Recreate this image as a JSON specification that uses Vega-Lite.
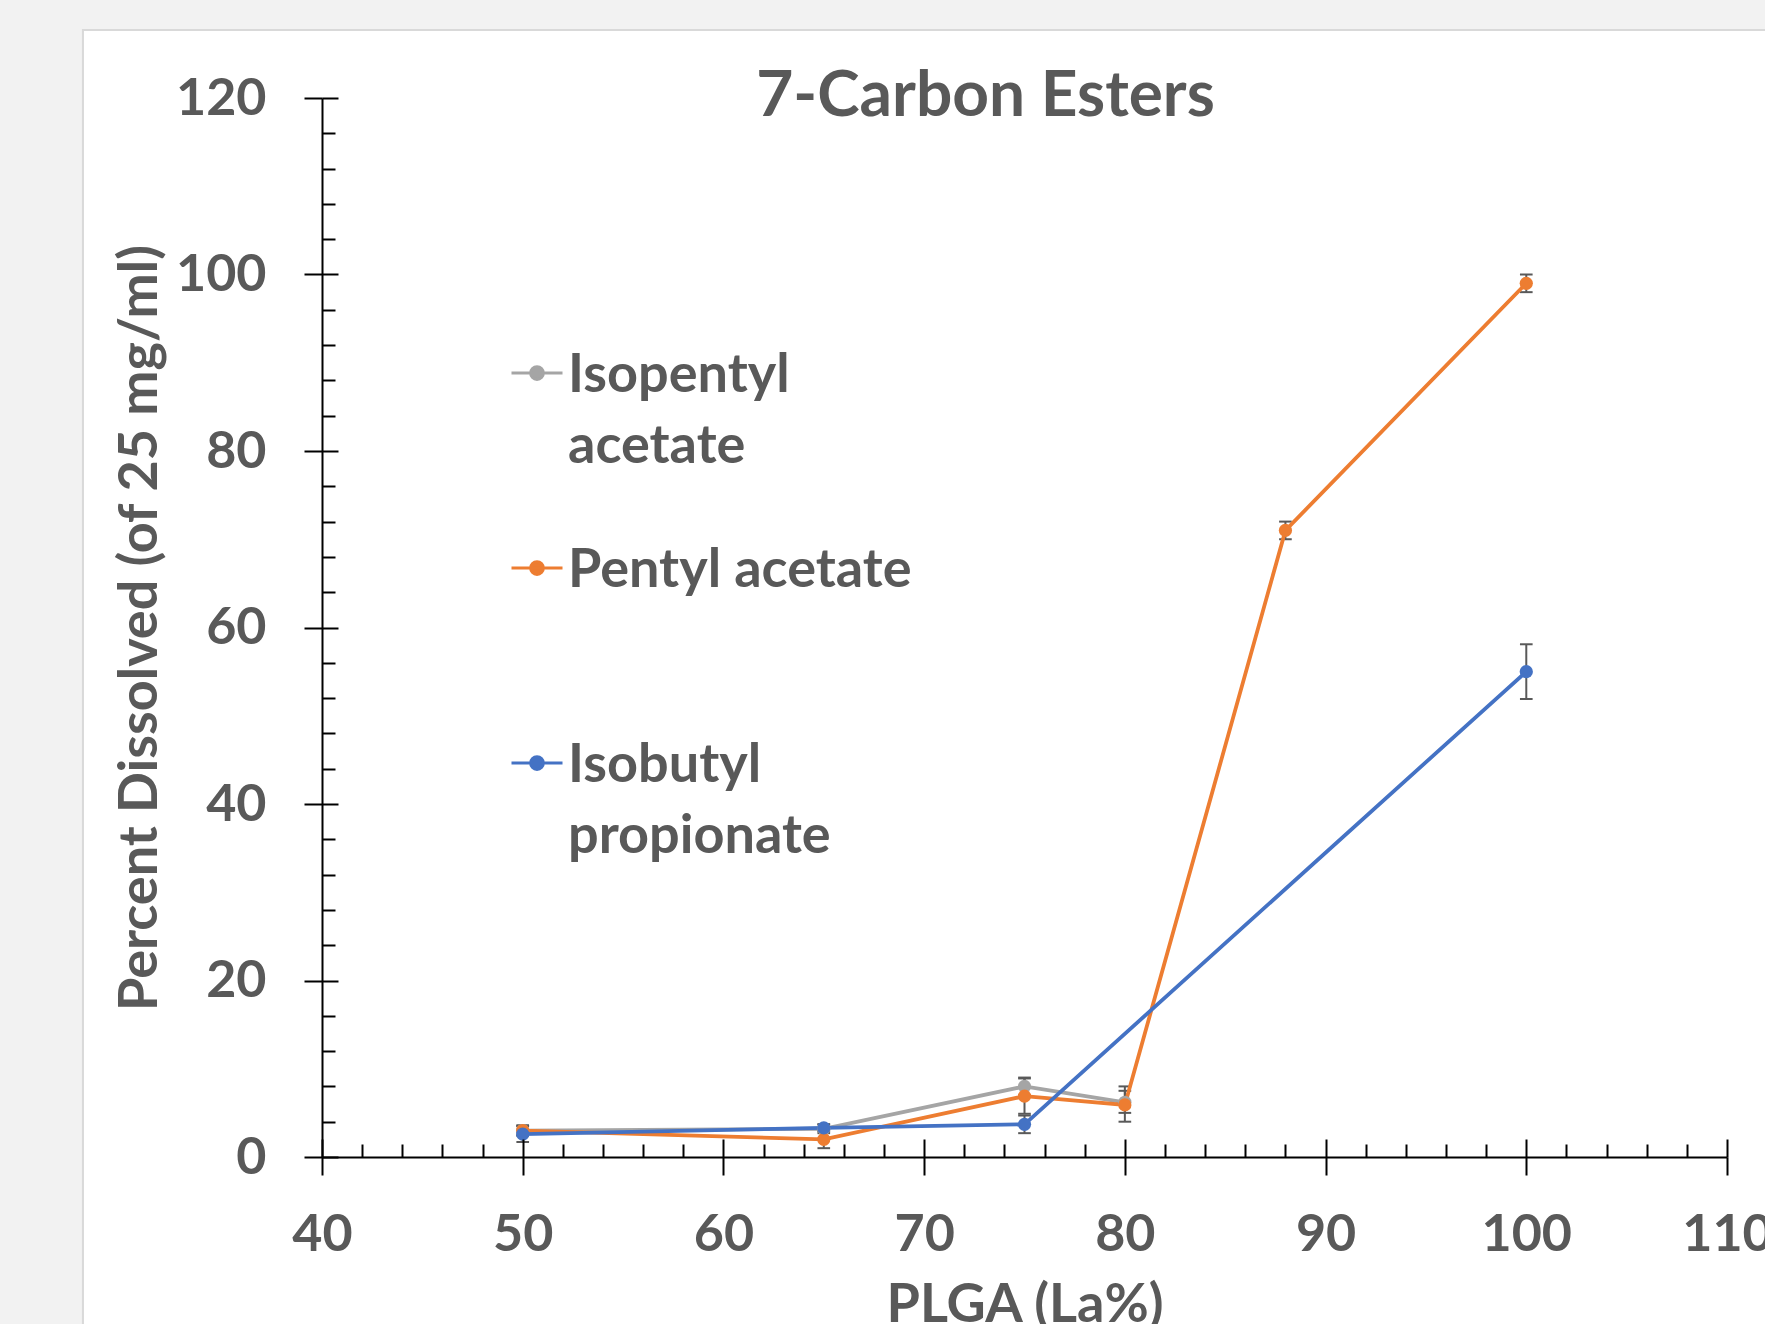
{
  "$schema": "https://vega.github.io/schema/vega-lite/v6.json",
  "width": 1405,
  "height": 1059,
  "autosize": {"type": "none"},
  "padding": {"left": 322, "top": 98, "right": 38, "bottom": 167},
  "background": "#f2f2f2",
  "config": {
    "view": {"stroke": null},
    "font": "Lato",
    "axis": {
      "labelFont": "Lato", "labelFontSize": 52, "labelFontWeight": "bold", "labelColor": "#595959",
      "titleFont": "Lato", "titleFontSize": 54, "titleFontWeight": "bold", "titleColor": "#595959",
      "tickColor": "black", "tickWidth": 2, "domainColor": "black", "domainWidth": 2,
      "grid": false, "labelFlush": false, "labelOverlap": false
    }
  },
  "title": {
    "text": "7-Carbon Esters", "font": "Lato", "fontWeight": "bold", "fontSize": 64,
    "color": "#595959", "anchor": "middle", "frame": "group", "baseline": "alphabetic",
    "offset": 0, "dy": 151, "dx": -39
  },
  "data": {
    "values": [
      {"series": "Isopentyl acetate", "x": 50, "y": 3.0, "lo": 2.5, "hi": 3.5},
      {"series": "Isopentyl acetate", "x": 65, "y": 3.2, "lo": 2.7, "hi": 3.7},
      {"series": "Isopentyl acetate", "x": 75, "y": 8.0, "lo": 7.0, "hi": 9.0},
      {"series": "Isopentyl acetate", "x": 80, "y": 6.2, "lo": 5.0, "hi": 7.5},
      {"series": "Pentyl acetate", "x": 50, "y": 3.0, "lo": 2.4, "hi": 3.6},
      {"series": "Pentyl acetate", "x": 65, "y": 2.0, "lo": 1.0, "hi": 3.0},
      {"series": "Pentyl acetate", "x": 75, "y": 6.9, "lo": 4.9, "hi": 8.9},
      {"series": "Pentyl acetate", "x": 80, "y": 5.9, "lo": 4.0, "hi": 8.0},
      {"series": "Pentyl acetate", "x": 88, "y": 71, "lo": 70, "hi": 72},
      {"series": "Pentyl acetate", "x": 100, "y": 99, "lo": 98, "hi": 100},
      {"series": "Isobutyl propionate", "x": 50, "y": 2.6, "lo": 1.7, "hi": 3.5},
      {"series": "Isobutyl propionate", "x": 65, "y": 3.3, "lo": 2.9, "hi": 3.7},
      {"series": "Isobutyl propionate", "x": 75, "y": 3.7, "lo": 2.7, "hi": 4.7},
      {"series": "Isobutyl propionate", "x": 100, "y": 55, "lo": 51.9, "hi": 58.1}
    ]
  },
  "resolve": {"axis": {"x": "independent", "y": "independent"}},
  "layer": [
    {
      "data": {"values": [{}]},
      "mark": {"type": "rect", "fill": "white", "stroke": "#d9d9d9", "strokeWidth": 2, "clip": false},
      "encoding": {
        "x": {"datum": 28.09, "type": "quantitative", "scale": {"domain": [40, 110], "nice": false, "zero": false}, "axis": null},
        "x2": {"datum": 125},
        "y": {"datum": 127.7, "type": "quantitative", "scale": {"domain": [0, 120], "nice": false, "zero": false}, "axis": null},
        "y2": {"datum": -40}
      }
    },
    {
      "mark": {"type": "rule", "color": "#595959", "strokeWidth": 2},
      "encoding": {
        "x": {"field": "x", "type": "quantitative", "scale": {"domain": [40, 110], "nice": false, "zero": false},
          "axis": {"orient": "bottom", "zindex": 2, "values": [42,44,46,48,52,54,56,58,62,64,66,68,72,74,76,78,82,84,86,88,92,94,96,98,102,104,106,108], "tickSize": -13, "labels": false, "domain": false, "title": null}},
        "y": {"field": "lo", "type": "quantitative", "scale": {"domain": [0, 120], "nice": false, "zero": false},
          "axis": {"orient": "left", "zindex": 2, "values": [4,8,12,16,24,28,32,36,44,48,52,56,64,68,72,76,84,88,92,96,104,108,112,116], "tickSize": -13, "labels": false, "domain": false, "title": null}},
        "y2": {"field": "hi"}
      }
    },
    {
      "mark": {"type": "point", "shape": "stroke", "filled": false, "size": 160, "stroke": "#595959", "strokeWidth": 2, "opacity": 1},
      "encoding": {
        "x": {"field": "x", "type": "quantitative", "scale": {"domain": [40, 110], "nice": false, "zero": false},
          "axis": {"orient": "bottom", "zindex": 2, "values": [40,50,60,70,80,90,100,110], "tickSize": -18, "labels": false, "domain": false, "title": null}},
        "y": {"field": "lo", "type": "quantitative", "scale": {"domain": [0, 120], "nice": false, "zero": false},
          "axis": {"orient": "left", "zindex": 2, "values": [0,20,40,60,80,100,120], "tickSize": -16, "labels": false, "domain": false, "title": null}}
      }
    },
    {
      "mark": {"type": "point", "shape": "stroke", "filled": false, "size": 160, "stroke": "#595959", "strokeWidth": 2, "opacity": 1},
      "encoding": {
        "x": {"field": "x", "type": "quantitative", "scale": {"domain": [40, 110], "nice": false, "zero": false}, "axis": null},
        "y": {"field": "hi", "type": "quantitative", "scale": {"domain": [0, 120], "nice": false, "zero": false}, "axis": null}
      }
    },
    {
      "mark": {"type": "line", "strokeWidth": 3.8},
      "encoding": {
        "x": {"field": "x", "type": "quantitative", "scale": {"domain": [40, 110], "nice": false, "zero": false}, "axis": null},
        "y": {"field": "y", "type": "quantitative", "scale": {"domain": [0, 120], "nice": false, "zero": false}, "axis": null},
        "color": {
          "field": "series", "type": "nominal",
          "scale": {"domain": ["Isopentyl acetate", "Pentyl acetate", "Isobutyl propionate"], "range": ["#a5a5a5", "#ed7d31", "#4472c4"]},
          "legend": {
            "orient": "none", "legendX": 188, "legendY": 248, "title": null, "padding": 0,
            "symbolType": "M-1,0L1,0M-0.25,0A0.25,0.25,0,1,1,0.25,0A0.25,0.25,0,1,1,-0.25,0Z",
            "symbolSize": 2601, "symbolStrokeWidth": 3,
            "labelFont": "Lato", "labelFontWeight": "bold", "labelFontSize": 54, "labelColor": "#595959",
            "labelOffset": 4, "labelLimit": 2000, "labelBaseline": "alphabetic",
            "labelExpr": "datum.label === 'Pentyl acetate' ? datum.label : split(datum.label, ' ')",
            "gridAlign": "all", "rowPadding": 67,
            "encode": {
              "symbols": {"update": {"fill": {"scale": "color", "field": "value"}, "stroke": {"scale": "color", "field": "value"}, "strokeWidth": {"value": 3}, "opacity": {"value": 1}}},
              "labels": {"update": {"dy": {"value": 19}, "lineHeight": {"value": 71}}}
            }
          }
        }
      }
    },
    {
      "mark": {"type": "point", "filled": true, "shape": "circle", "size": 175, "opacity": 1},
      "encoding": {
        "x": {"field": "x", "type": "quantitative", "scale": {"domain": [40, 110], "nice": false, "zero": false},
          "axis": {"orient": "bottom", "zindex": 2, "values": [40,50,60,70,80,90,100,110], "tickSize": 18, "labelPadding": 34, "title": "PLGA (La%)", "titlePadding": 18}},
        "y": {"field": "y", "type": "quantitative", "scale": {"domain": [0, 120], "nice": false, "zero": false},
          "axis": {"orient": "left", "zindex": 2, "values": [0,20,40,60,80,100,120], "tickSize": 18, "labelPadding": 38, "title": "Percent Dissolved (of 25 mg/ml)", "titlePadding": 8}},
        "color": {
          "field": "series", "type": "nominal",
          "scale": {"domain": ["Isopentyl acetate", "Pentyl acetate", "Isobutyl propionate"], "range": ["#a5a5a5", "#ed7d31", "#4472c4"]},
          "legend": {
            "orient": "none", "legendX": 188, "legendY": 248, "title": null, "padding": 0,
            "symbolType": "M-1,0L1,0M-0.25,0A0.25,0.25,0,1,1,0.25,0A0.25,0.25,0,1,1,-0.25,0Z",
            "symbolSize": 2601, "symbolStrokeWidth": 3,
            "labelFont": "Lato", "labelFontWeight": "bold", "labelFontSize": 54, "labelColor": "#595959",
            "labelOffset": 4, "labelLimit": 2000, "labelBaseline": "alphabetic",
            "labelExpr": "datum.label === 'Pentyl acetate' ? datum.label : split(datum.label, ' ')",
            "gridAlign": "all", "rowPadding": 67,
            "encode": {
              "symbols": {"update": {"fill": {"scale": "color", "field": "value"}, "stroke": {"scale": "color", "field": "value"}, "strokeWidth": {"value": 3}, "opacity": {"value": 1}}},
              "labels": {"update": {"dy": {"value": 19}, "lineHeight": {"value": 71}}}
            }
          }
        }
      }
    }
  ]
}
